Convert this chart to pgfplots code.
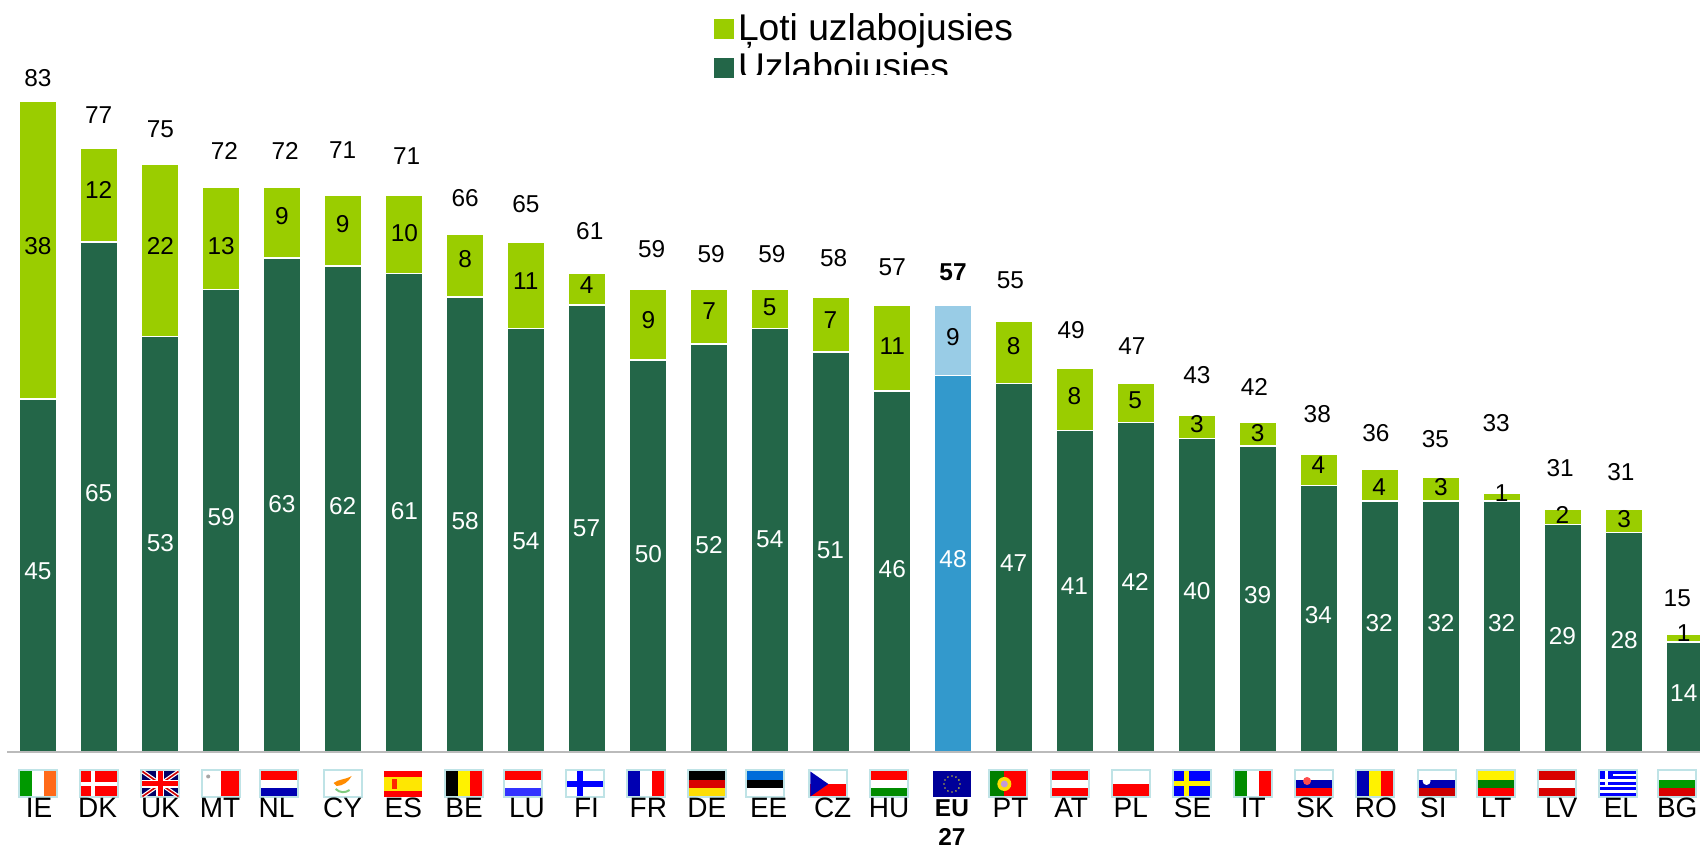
\documentclass[border=0pt]{standalone}
\usepackage{pgfplots}
\usepackage{pgfplotstable}
\pgfplotsset{compat=1.18}
\usepackage{fontspec}
\setmainfont{Liberation Sans}
\definecolor{lgreen}{HTML}{9ACD00}
\definecolor{dgreen}{HTML}{236648}
\definecolor{eudark}{HTML}{3399CC}
\definecolor{eulight}{HTML}{99CCE6}
\definecolor{frame}{HTML}{BFE3E6}
\definecolor{axisgrey}{HTML}{BBBBBB}

% Stacked values, countries at 0,1,2,... (EU27 is position 15, drawn in its own colours)
\pgfplotstableread{
x  a  b
0  45 38
1  65 12
2  53 22
3  59 13
4  63 9
5  62 9
6  61 10
7  58 8
8  54 11
9  57 4
10 50 9
11 52 7
12 54 5
13 51 7
14 46 11
16 47 8
17 41 8
18 42 5
19 40 3
20 39 3
21 34 4
22 32 4
23 32 3
24 32 1
25 29 2
26 28 3
27 14 1
}\countries

% Text positions, in pixels of the 1568x783 view
\pgfplotstableread{
x y t
35 72 83
91 106 77
148 119 75
207 139 72
263 139 72
316 138 71
375 144 71
429 183 66
485 188 65
544 213 61
601 230 59
656 234 59
712 234 59
769 238 58
823 246 57
932 258 55
988 304 49
1044 319 47
1104 346 43
1157 357 42
1215 382 38
1269 399 36
1324 405 35
1380 390 33
1439 432 31
1495 435 31
1547 552 15
}\totals

\pgfplotstableread{
x y t
35 227 38
91 175 12
148 227 22
204 227 13
260 199 9
316 207 9
373 215 10
429 239 8
485 259 11
541 263 4
598 295 9
654 287 7
710 283 5
766 295 7
823 319 11
879 311 9
935 319 8
991 365 8
1047 369 5
1104 391 3
1160 399 3
1216 429 4
1272 449 4
1329 449 3
1385 455 1
1441 475 2
1498 479 3
1553 584 1
}\lightvals

\pgfplotstableread{
x y t
35 527 45
91 455 65
148 501 53
204 477 59
260 465 63
316 467 62
373 471 61
429 481 58
485 499 54
541 487 57
598 511 50
654 503 52
710 497 54
766 507 51
823 525 46
879 516 48
935 519 47
991 541 41
1047 537 42
1104 545 40
1160 549 39
1216 567 34
1272 575 32
1329 575 32
1385 575 32
1441 587 29
1498 590 28
1553 639 14
}\darkvals

\pgfplotstableread{
x y t
36 745 IE
90 745 DK
148 745 UK
203 745 MT
255 745 NL
316 745 CY
372 745 ES
428 745 BE
486 745 LU
541 745 FI
598 745 FR
652 745 DE
709 745 EE
768 745 CZ
820 745 HU
932 745 PT
988 745 AT
1043 745 PL
1100 745 SE
1156 745 IT
1213 745 SK
1269 745 RO
1322 745 SI
1380 745 LT
1440 745 LV
1495 745 EL
1547 745 BG
}\names

\pgfplotsset{
  base/.style={
    at={(0,0)}, anchor=south west, scale only axis,
    width=850pt, height=424.5pt, hide axis,
  },
  dataaxis/.style={
    base, xmin=-0.623, xmax=27.246, ymin=-12.37, ymax=95.9,
    ybar stacked, bar width=19.2pt,
  },
  txt/.style={
    draw=none, mark=none, only marks,
    point meta=explicit symbolic,
    nodes near coords, nodes near coords align={anchor=center},
    every node near coord/.style={inner sep=0pt, text=#1, font=\txtfont},
  },
}
\newcommand\txtfont{\fontsize{12.2}{14}\selectfont}
\newcommand\fl[2]{\begin{scope}[shift={(#1*1.0842,65)}]
  \fill[frame] (-20,-14.5) rectangle (20,14.5);
  \fill[white] (-18,-12.5) rectangle (18,12.5);
  #2
\end{scope}}
\newcommand\hs[3]{% three horizontal stripes
  \fill[#1] (-18,4.2) rectangle (18,12.5);
  \fill[#2] (-18,-4.2) rectangle (18,4.2);
  \fill[#3] (-18,-12.5) rectangle (18,-4.2);}
\newcommand\vs[3]{% three vertical stripes
  \fill[#1] (-18,-12.5) rectangle (-6,12.5);
  \fill[#2] (-6,-12.5) rectangle (6,12.5);
  \fill[#3] (6,-12.5) rectangle (18,12.5);}

\begin{document}
\begin{tikzpicture}
\clip (0,0) rectangle (850pt,424.5pt);
\path[use as bounding box] (0,0) rectangle (850pt,424.5pt);

\begin{axis}[dataaxis,
  reverse legend,
  legend image code/.code={\fill[#1,draw=none] (0pt,-5pt) rectangle (10pt,5pt);},
  legend style={draw=none, fill=none, inner sep=0pt, outer sep=0pt,
    at={(714/1700,1-10/849)}, anchor=north west,
    font=\fontsize{18.6}{20}\selectfont, row sep=0.4pt,
    cells={anchor=west},
    /tikz/every even column/.style={column sep=6.5pt}},
]
\addplot[fill=dgreen, draw=white, line width=0.8pt] table[x=x,y=a] {\countries};
\addlegendentry{Uzlabojusies}
\addplot[fill=lgreen, draw=white, line width=0.8pt] table[x=x,y=b] {\countries};
\addlegendentry{Ļoti uzlabojusies}
\end{axis}

\begin{axis}[dataaxis]
\addplot[fill=eudark, draw=white, line width=0.8pt] coordinates {(15,48)};
\addplot[fill=eulight, draw=white, line width=0.8pt] coordinates {(15,9)};
\end{axis}

% base line and flags, in pixels of the reference (y upwards)
\begin{scope}[x=0.5pt,y=0.5pt]
\draw[axisgrey, line width=1pt] (7,97) -- (1700,97);
\fl{35}{\vs{green!60!black}{white}{orange!70!red!90!white}}
\fl{91}{\fill[red] (-18,-12.5) rectangle (18,12.5);
  \fill[white] (-18,-2) rectangle (18,2); \fill[white] (-8,-12.5) rectangle (-4,12.5);}
\fl{148}{\fill[blue!40!black] (-18,-12.5) rectangle (18,12.5);
  \draw[white, line width=2pt] (-18,-12.5) -- (18,12.5) (-18,12.5) -- (18,-12.5);
  \draw[red!80!black, line width=0.8pt] (-18,-12.5) -- (18,12.5) (-18,12.5) -- (18,-12.5);
  \fill[white] (-18,-4) rectangle (18,4); \fill[white] (-4,-12.5) rectangle (4,12.5);
  \fill[red] (-18,-2.5) rectangle (18,2.5); \fill[red] (-2.5,-12.5) rectangle (2.5,12.5);}
\fl{204}{\fill[red] (0,-12.5) rectangle (18,12.5); \fill[gray!70] (-13,7.5) circle (2);}
\fl{257}{\hs{red}{white}{blue!70!black}}
\fl{316}{\fill[orange!90!yellow] (-9,1) .. controls (-4,5) and (2,4) .. (9,8) .. controls (6,2) and (0,-2) .. (-6,-2) -- cycle;
  \draw[green!60!black!50, line width=1pt] (-7,-5) .. controls (-3,-9) and (3,-9) .. (7,-6);}
\fl{372}{\fill[white] (-20,-14.5) rectangle (20,14.5);
  \fill[red] (-19,-13) rectangle (19,13); \fill[yellow!90!orange] (-19,-7) rectangle (19,7);
  \fill[red!70!orange] (-11,-5) rectangle (-6,5);}
\fl{428}{\vs{black}{yellow}{red}}
\fl{482}{\hs{red}{white}{blue!80!white}}
\fl{540}{\fill[blue] (-8,-12.5) rectangle (-2,12.5); \fill[blue] (-18,-3) rectangle (18,3);}
\fl{596}{\vs{blue!70!black}{white}{red}}
\fl{652}{\hs{black}{red!85!black}{yellow!80!orange}}
\fl{706}{\hs{blue!50!cyan!85!black}{black}{white}}
\fl{764}{\fill[red] (-18,-12.5) rectangle (18,0); \fill[blue!70!black] (-18,-12.5) -- (-18,12.5) -- (0,0) -- cycle;}
\fl{820}{\hs{red}{white}{green!55!black}}
\fl{878}{\fill[white] (-20,-14.5) rectangle (20,14.5);
  \fill[blue!60!black] (-19,-13) rectangle (19,13);
  \foreach \a in {0,30,...,330} \fill[yellow!70!black] (\a:8) circle (0.9);}
\fl{930}{\fill[red] (-18,-12.5) rectangle (18,12.5); \fill[green!50!black] (-18,-12.5) rectangle (-4,12.5);
  \fill[yellow!80!orange] (-4,0) circle (7); \fill[red!40!blue!40!white] (-4,0) circle (3.5);}
\fl{987}{\hs{red}{white}{red}}
\fl{1043}{\fill[red] (-18,-12.5) rectangle (18,0);}
\fl{1099}{\fill[blue] (-18,-12.5) rectangle (18,12.5);
  \fill[yellow] (-18,-2.5) rectangle (18,2.5); \fill[yellow] (-8,-12.5) rectangle (-3,12.5);}
\fl{1156}{\vs{green!55!black}{white}{red}}
\fl{1212}{\hs{white}{blue!70!black}{red}\fill[red!70!white] (-7,3) circle (4);}
\fl{1268}{\vs{blue!70!black}{yellow}{red}}
\fl{1325}{\hs{white}{blue!70!black}{red!80!black}\fill[white] (-10,3) circle (4);}
\fl{1380}{\hs{yellow}{green!50!black}{red}}
\fl{1436}{\hs{red!85!black}{white}{red!85!black}}
\fl{1492}{\fill[blue] (-18,-12.5) rectangle (18,12.5);
  \foreach \yy in {-9,-3.5,2,7.5} \fill[white] (-5,\yy) rectangle (18,\yy+2.5);
  \fill[white] (-18,-9) rectangle (18,-6.5); \fill[white] (-18,-3.5) rectangle (18,-1);
  \fill[white] (-18,2) rectangle (-5,4.5); \fill[white] (-13,-1) rectangle (-10,12.5);}
\fl{1547}{\hs{white}{green!60!black}{red!85!black}}
\end{scope}

% texts, positioned in pixels of the 1568x783 view
\begin{axis}[base, xmin=0, xmax=1568, ymin=0, ymax=783, y dir=reverse, clip=false]
\addplot[txt=black] table[x=x,y=y,meta=t] {\totals};
\addplot[draw=none, mark=none, only marks, point meta=explicit symbolic,
  nodes near coords, nodes near coords align={anchor=center},
  every node near coord/.style={inner sep=0pt, font=\txtfont\bfseries}]
  coordinates {(879,251) [57] (878,745) [EU] (878,772) [27]};
\addplot[txt=black] table[x=x,y=y,meta=t] {\lightvals};
\addplot[txt=white] table[x=x,y=y,meta=t] {\darkvals};
\addplot[draw=none, mark=none, only marks, point meta=explicit symbolic,
  nodes near coords, nodes near coords align={anchor=center},
  every node near coord/.style={inner sep=0pt, font=\fontsize{14}{16}\selectfont}]
  table[x=x,y=y,meta=t] {\names};
\end{axis}

% the second legend line is cut off just under its baseline in the reference
\fill[white] (370pt,424.5pt-75.5*0.5pt) rectangle (500pt,424.5pt-88*0.5pt);
\end{tikzpicture}
\end{document}
